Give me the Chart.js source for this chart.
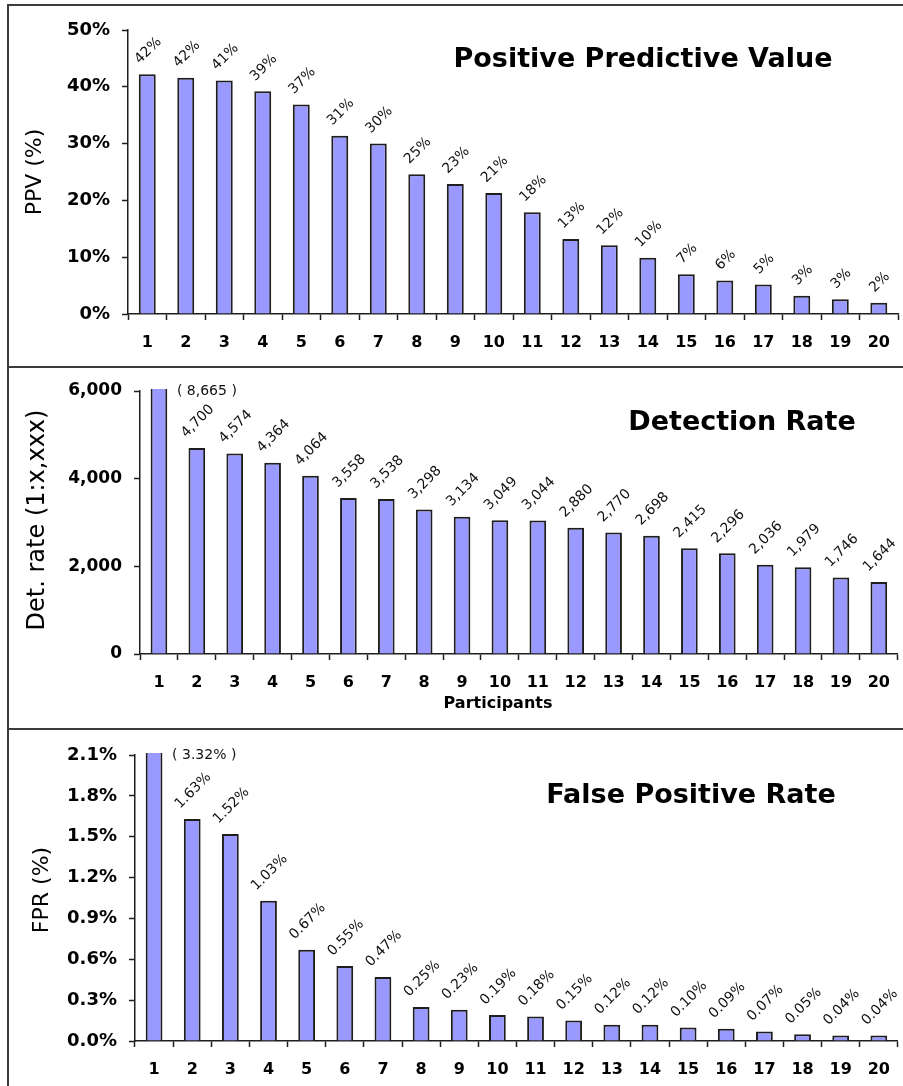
<!DOCTYPE html>
<html>
<head>
<meta charset="utf-8">
<script src="https://cdn.jsdelivr.net/npm/chart.js@4.4.1/dist/chart.umd.min.js"></script>
<style>
  html, body { margin: 0; padding: 0; background: #fff; }
  body { width: 903px; height: 1086px; position: relative; overflow: hidden; }
  .rule { position: absolute; background: #3c3c3c; }
  canvas { position: absolute; }
</style>
</head>
<body>
<div class="rule" style="left:7px;top:4px;width:2px;height:1082px"></div>
<div class="rule" style="left:7px;top:4px;width:896px;height:2px"></div>
<div class="rule" style="left:7px;top:366px;width:896px;height:2px"></div>
<div class="rule" style="left:7px;top:728px;width:896px;height:2px"></div>
<canvas id="ppv" style="left:9px;top:6px" width="894" height="360"></canvas>
<canvas id="det" style="left:9px;top:368px" width="894" height="360"></canvas>
<canvas id="fpr" style="left:9px;top:730px" width="894" height="356"></canvas>
<script>
// Participants on the x axis
const participants = ['1','2','3','4','5','6','7','8','9','10','11','12','13','14','15','16','17','18','19','20'];

// Positive predictive value (%)
const ppvValues = [42.2, 41.6, 41.1, 39.2, 36.9, 31.4, 30.0, 24.6, 22.9, 21.3, 17.9, 13.2, 12.1, 9.9, 7.0, 5.9, 5.2, 3.2, 2.6, 2.0];
// Detection rate (1 in x)
const detectionValues = [8665, 4700, 4574, 4364, 4064, 3558, 3538, 3298, 3134, 3049, 3044, 2880, 2770, 2698, 2415, 2296, 2036, 1979, 1746, 1644];
// False positive rate (%)
const fprValues = [3.32, 1.63, 1.52, 1.03, 0.67, 0.55, 0.47, 0.25, 0.23, 0.19, 0.18, 0.15, 0.12, 0.12, 0.10, 0.09, 0.07, 0.05, 0.04, 0.04];

// Y axis tick values
const ppvTicks = [0, 10, 20, 30, 40, 50];
const detectionTicks = [0, 2000, 4000, 6000];
const fprTicks = [0, 0.3, 0.6, 0.9, 1.2, 1.5, 1.8, 2.1];

const FONT = "'DejaVu Sans', 'Liberation Sans', Arial, sans-serif";
const INK = '#1e1e1e';

// Value labels above the bars, panel title and axis captions
const panelText = {
  id: 'panelText',
  afterDatasetsDraw(chart, args, opts) {
    const ctx = chart.ctx;
    const area = chart.chartArea;
    const yMax = chart.scales.y.max;
    const meta = chart.getDatasetMeta(0);
    const data = chart.data.datasets[0].data;
    ctx.save();
    ctx.fillStyle = '#111';
    meta.data.forEach((bar, i) => {
      const v = data[i];
      const text = opts.format(v);
      if (v > yMax) {
        // bar runs off the top of the axis: state its value beside it
        ctx.font = '14px ' + FONT;
        ctx.textAlign = 'left';
        ctx.textBaseline = 'alphabetic';
        ctx.fillText('( ' + text + ' )', bar.x + 18, area.top + 4);
        return;
      }
      ctx.font = '14px ' + FONT;
      const w = ctx.measureText(text).width;
      const side = (w + 10) / Math.SQRT2;
      ctx.save();
      ctx.translate(bar.x + 1, bar.y - 9 - side / 2);
      ctx.rotate(-Math.PI / 4);
      ctx.textAlign = 'center';
      ctx.textBaseline = 'middle';
      ctx.fillText(text, 0, 0);
      ctx.restore();
    });

    ctx.fillStyle = '#000';
    // panel title
    ctx.font = 'bold 27px ' + FONT;
    ctx.textAlign = 'center';
    ctx.textBaseline = 'alphabetic';
    ctx.fillText(opts.title.text, opts.title.x, opts.title.y);

    // vertical axis caption
    ctx.save();
    ctx.font = opts.yTitle.size + 'px ' + FONT;
    ctx.translate(opts.yTitle.x, opts.yTitle.y);
    ctx.rotate(-Math.PI / 2);
    ctx.textBaseline = 'middle';
    ctx.fillText(opts.yTitle.text, 0, 0);
    ctx.restore();

    // horizontal axis caption
    if (opts.xTitle) {
      ctx.font = 'bold 16px ' + FONT;
      ctx.fillText(opts.xTitle.text, opts.xTitle.x, opts.xTitle.y);
    }
    ctx.restore();
  }
};

function makeChart(id, values, ticks, cfg) {
  return new Chart(document.getElementById(id), {
    type: 'bar',
    data: {
      labels: participants,
      datasets: [{
        data: values,
        backgroundColor: '#9999ff',
        borderColor: INK,
        borderWidth: 2,
        barPercentage: 0.44,
        categoryPercentage: 1.0,
        clip: { left: 5, right: 5, top: 2, bottom: 2 }
      }]
    },
    options: {
      responsive: false,
      animation: false,
      devicePixelRatio: 1,
      layout: { padding: { top: cfg.top, right: cfg.right, left: 0, bottom: 0 } },
      plugins: {
        legend: { display: false },
        tooltip: { enabled: false },
        panelText: {
          format: cfg.format,
          title: cfg.title,
          yTitle: cfg.yTitle,
          xTitle: cfg.xTitle
        }
      },
      scales: {
        x: {
          afterFit: s => { s.height = cfg.xHeight; },
          border: { display: true, color: INK, width: 1.5 },
          grid: { display: true, drawOnChartArea: false, drawTicks: true, tickLength: 6, tickColor: INK, tickWidth: 1.5, offset: true },
          ticks: { color: '#000', padding: 13, maxRotation: 0, autoSkip: false, font: { family: FONT, size: 16, weight: 'bold' } }
        },
        y: {
          min: 0,
          max: ticks[ticks.length - 1],
          afterFit: s => { s.width = cfg.yWidth; },
          afterBuildTicks: s => { s.ticks = ticks.map(v => ({ value: v })); },
          border: { display: true, color: INK, width: 1.5 },
          grid: { display: true, drawOnChartArea: false, drawTicks: true, tickLength: 6, tickColor: INK, tickWidth: 1.5 },
          ticks: { color: '#000', padding: 12, callback: cfg.tick, font: { family: FONT, size: cfg.tickSize, weight: 'bold' } }
        }
      }
    },
    plugins: [panelText]
  });
}

makeChart('ppv', ppvValues, ppvTicks, {
  top: 24, right: 2, yWidth: 119, xHeight: 52, tickSize: 18,
  tick: v => v + '%',
  format: v => Math.round(v) + '%',
  title: { text: 'Positive Predictive Value', x: 634, y: 61 },
  yTitle: { text: 'PPV (%)', x: 26, y: 166, size: 22 }
});

makeChart('det', detectionValues, detectionTicks, {
  top: 23, right: 2, yWidth: 131, xHeight: 74, tickSize: 17,
  tick: v => v.toLocaleString('en-US'),
  format: v => v.toLocaleString('en-US'),
  title: { text: 'Detection Rate', x: 733, y: 62 },
  yTitle: { text: 'Det. rate (1:x,xxx)', x: 29, y: 152, size: 24 },
  xTitle: { text: 'Participants', x: 489, y: 340 }
});

makeChart('fpr', fprValues, fprTicks, {
  top: 25, right: 1, yWidth: 126, xHeight: 45, tickSize: 18,
  tick: v => v.toFixed(1) + '%',
  format: v => v.toFixed(2) + '%',
  title: { text: 'False Positive Rate', x: 682, y: 73 },
  yTitle: { text: 'FPR (%)', x: 33, y: 160, size: 22 }
});
</script>
</body>
</html>
